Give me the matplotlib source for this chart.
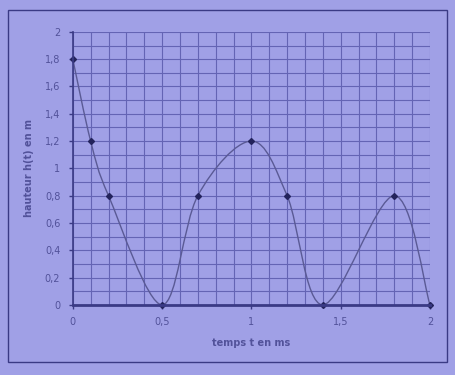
import numpy as np
import matplotlib
matplotlib.use("Agg")
import matplotlib.pyplot as plt
from matplotlib.path import Path
from matplotlib.patches import PathPatch, Rectangle

# < data >-------------------------------------------------------------------------------------

# temps t en ms
t_ms = [0.0, 0.1, 0.2, 0.5, 0.7, 1.0, 1.2, 1.4, 1.8, 2.0]
# hauteur h(t) en m
h_m = [1.8, 1.2, 0.8, 0.0, 0.8, 1.2, 0.8, 0.0, 0.8, 0.0]

x_ticks = [0, 0.5, 1, 1.5, 2]
x_tick_labels = ["0", "0,5", "1", "1,5", "2"]
y_ticks = [0, 0.2, 0.4, 0.6, 0.8, 1.0, 1.2, 1.4, 1.6, 1.8, 2.0]
y_tick_labels = ["0", "0,2", "0,4", "0,6", "0,8", "1", "1,2", "1,4", "1,6", "1,8", "2"]

# < colours >----------------------------------------------------------------------------------
BG = "#a0a0e6"
GRID = "#6464b4"
INK = "#3a3a85"
TXT = "#52529a"


# ---------------------------------------------------------------------------------------------
def smooth_path(xs, ys):
    """
    excel-like smoothed line: cubic bezier segments through the points
    """
    pts = np.column_stack([xs, ys])
    n = len(pts)
    verts = [pts[0]]
    codes = [Path.MOVETO]
    for i in range(n - 1):
        p0 = pts[max(i - 1, 0)]
        p1 = pts[i]
        p2 = pts[i + 1]
        p3 = pts[min(i + 2, n - 1)]
        c1 = p1 + (p2 - p0) / 6.0
        c2 = p2 - (p3 - p1) / 6.0
        verts += [c1, c2, p2]
        codes += [Path.CURVE4] * 3
    return Path(verts, codes)


# ---------------------------------------------------------------------------------------------
def main():
    fig = plt.figure(figsize=(4.55, 3.75), dpi=100)
    fig.patch.set_facecolor(BG)

    # outer chart frame
    fig.patches.append(Rectangle((0.018, 0.035), 0.965, 0.939, transform=fig.transFigure,
                                 fill=False, edgecolor=INK, lw=1.0))

    ax = fig.add_axes([0.160, 0.187, 0.785, 0.728])
    ax.set_facecolor(BG)

    ax.set_xlim(0, 2)
    ax.set_ylim(0, 2)

    # grid every 0.1 on both axes
    ax.set_xticks(np.arange(0, 2.01, 0.1), minor=True)
    ax.set_yticks(np.arange(0, 2.01, 0.1), minor=True)
    ax.grid(which="both", color=GRID, lw=0.8)
    ax.set_axisbelow(True)

    ax.set_xticks(x_ticks)
    ax.set_xticklabels(x_tick_labels)
    ax.set_yticks(y_ticks)
    ax.set_yticklabels(y_tick_labels)
    ax.tick_params(which="major", direction="out", length=3, width=1.0, color=INK,
                   labelsize=7, labelcolor=TXT, pad=6)
    ax.tick_params(which="minor", length=0)

    for side in ["top", "right"]:
        ax.spines[side].set_visible(False)
    ax.spines["left"].set_color(INK)
    ax.spines["left"].set_linewidth(1.2)
    ax.spines["bottom"].set_color(INK)
    ax.spines["bottom"].set_linewidth(2.0)

    # smoothed curve + points
    ax.add_patch(PathPatch(smooth_path(t_ms, h_m), facecolor="none", edgecolor="#5a5a95",
                           lw=1.0, clip_on=False))
    ax.plot(t_ms, h_m, "D", color="#23235c", ms=3, clip_on=False)

    ax.set_xlabel("temps t en ms", fontsize=7, fontweight="bold", color=TXT, labelpad=8)
    ax.set_ylabel("hauteur h(t) en m", fontsize=7, fontweight="bold", color=TXT, labelpad=8)

    fig.savefig("out.png", dpi=100, facecolor=BG)


if __name__ == "__main__":
    main()
